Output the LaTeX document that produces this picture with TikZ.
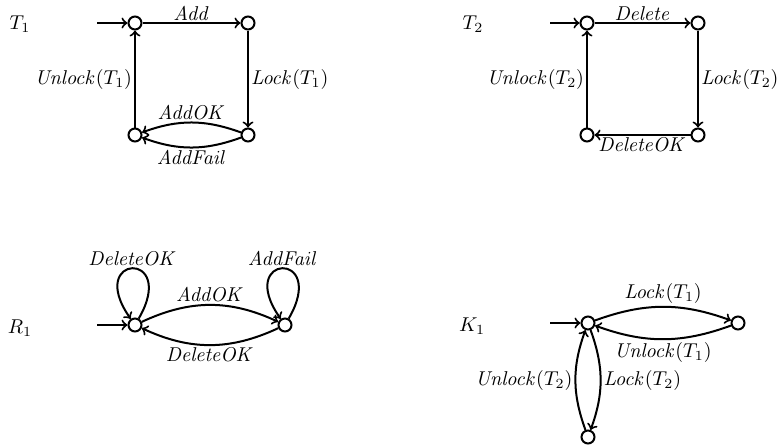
\documentclass[tikz,border=0pt]{standalone}
\usepackage{tikz}

\begin{document}
\begin{tikzpicture}[x=0.5pt,y=-0.5pt,line width=1pt,
    st/.style={draw,circle,fill=white,minimum size=6.5pt,inner sep=0pt},
    lbl/.style={inner sep=1pt}]
    \useasboundingbox (0,0) rectangle (779,446);
    % automaton names
    \foreach \name/\pos/\txt in
{{nT1/(20,24)/$T_1$},{nT2/(473,24)/$T_2$},{nR1/(20,328)/$R_1$},{nK1/(472,326)/$K_1$}}
      \node (\name) at \pos {\txt};
    % states
    \foreach \name/\pos in
{{a0/(135,23)},{a1/(248,23)},{a2/(248,135)},{a3/(135,135)},
 {b0/(587,23)},{b1/(698,23)},{b2/(698,135)},{b3/(587,135)},
 {r0/(135,325)},{r1/(285,325)},
 {k0/(588,323)},{k1/(738,323)},{k2/(588,437)}}
      \node[st] (\name) at \pos {};
    % initial arrows
    \foreach \name/\pos in {{a/(97,23)},{b/(550,23)},{r/(97,325)},{k/(550,323)}}
      \node[coordinate] (\name-in) at \pos {};
    \foreach \name in {a,b,r,k}
      \draw[->] (\name-in) -- (\name0);
    % transitions
    \foreach \src/\tgt/\b/\side/\txt in
{{a0/a1/0/above/$\mathit{Add}$},{a1/a2/0/right/$\mathit{Lock}(T_1)$},
 {a2/a3/-20/above/$\mathit{AddOK}$},{a2/a3/20/below/$\mathit{AddFail}$},
 {a3/a0/0/left/$\mathit{Unlock}(T_1)$},
 {b0/b1/0/above/$\mathit{Delete}$},{b1/b2/0/right/$\mathit{Lock}(T_2)$},
 {b2/b3/0/below/$\mathit{DeleteOK}$},{b3/b0/0/left/$\mathit{Unlock}(T_2)$},
 {r0/r1/25/above/$\mathit{AddOK}$},{r1/r0/25/below/$\mathit{DeleteOK}$},
 {k0/k1/20/above/$\mathit{Lock}(T_1)$},{k1/k0/20/below/$\mathit{Unlock}(T_1)$},
 {k0/k2/20/right/$\mathit{Lock}(T_2)$},{k2/k0/20/left/$\mathit{Unlock}(T_2)$}}
      \draw[->] (\src) to[bend left=\b] node[lbl,\side] {\txt} (\tgt);
    % self loops
    \foreach \name/\txt in {{r0/$\mathit{DeleteOK}$},{r1/$\mathit{AddFail}$}}
      \draw[->] (\name) to[loop,out=60,in=125,min distance=14mm] node[lbl,above] {\txt} (\name);
  \end{tikzpicture}
\end{document}
